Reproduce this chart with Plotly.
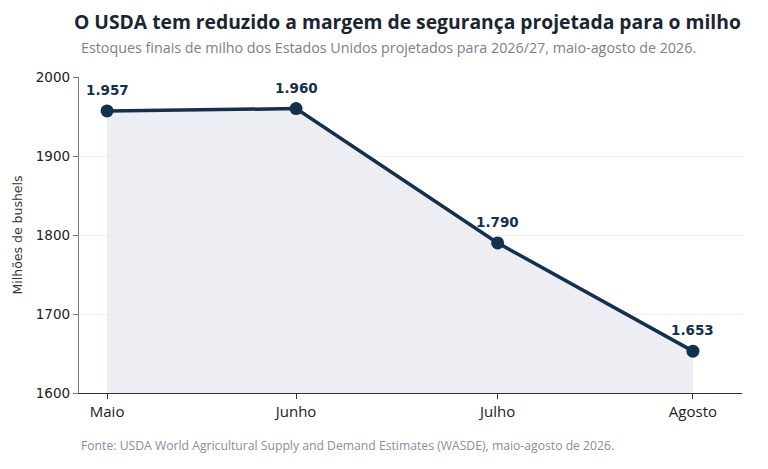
import plotly.graph_objects as go

# Data
report_dates = ["2026-05-12", "2026-06-11", "2026-07-13", "2026-08-13"]
month_labels = ["Maio", "Junho", "Julho", "Agosto"]
ending_stocks = [1957, 1960, 1790, 1653]
y_ticks = [1600, 1700, 1800, 1900, 2000]

title_text = "O USDA tem reduzido a margem de segurança projetada para o milho"
subtitle_text = "Estoques finais de milho dos Estados Unidos projetados para 2026/27, maio-agosto de 2026."
source_text = "Fonte: USDA World Agricultural Supply and Demand Estimates (WASDE), maio-agosto de 2026."

navy = "#14304f"

fig = go.Figure()
fig.add_trace(go.Scatter(
    x=report_dates, y=ending_stocks,
    mode="lines+markers",
    fill="tozeroy", fillcolor="rgba(226,229,236,0.65)",
    line=dict(color=navy, width=3.5),
    marker=dict(color=navy, size=13),
    hoverinfo="skip",
    cliponaxis=False,
))

annotations = []
for d, v in zip(report_dates, ending_stocks):
    annotations.append(dict(
        x=d, y=v, xref="x", yref="y", text="<b>" + f"{v:,}".replace(",", ".") + "</b>",
        showarrow=False, yshift=21, xanchor="center", yanchor="middle",
        font=dict(family="DejaVu Sans", size=13.5, color=navy),
    ))

annotations += [
    dict(text="<b>" + title_text + "</b>", xref="paper", yref="paper", x=0.496, y=1.0,
         xanchor="center", yanchor="top", yshift=77 - 6, showarrow=False,
         font=dict(family="Open Sans", size=19.3, color="#1a2533")),
    dict(text=subtitle_text, xref="paper", yref="paper", x=0, y=1.0,
         xanchor="left", yanchor="top", yshift=77 - 36, showarrow=False,
         font=dict(family="Open Sans", size=14.3, color="#7a7f88")),
    dict(text=source_text, xref="paper", yref="paper", x=0, y=0,
         xanchor="left", yanchor="top", yshift=-42, showarrow=False,
         font=dict(family="Open Sans", size=12.2, color="#8a8f98")),
]

fig.update_layout(
    width=768, height=469,
    margin=dict(l=79, r=26, t=77, b=76),
    paper_bgcolor="white", plot_bgcolor="white",
    showlegend=False,
    xaxis=dict(
        type="date",
        range=["2026-05-07 13:00", "2026-08-20 19:00"],
        tickvals=report_dates, ticktext=month_labels,
        ticks="outside", ticklen=5, tickcolor="#333",
        showline=True, linecolor="#333", linewidth=1.3,
        showgrid=False, zeroline=False,
        tickfont=dict(family="Open Sans", size=15, color="#222"),
    ),
    yaxis=dict(
        range=[1600, 2000],
        tickvals=y_ticks,
        ticks="outside", ticklen=5, tickcolor="#777",
        showline=True, linecolor="#777", linewidth=1.3,
        showgrid=True, gridcolor="#f0f0f2", gridwidth=1,
        zeroline=False,
        tickfont=dict(family="DejaVu Sans", size=13.5, color="#222"),
        title=dict(text="Milhões de bushels", font=dict(family="DejaVu Sans", size=12.5, color="#333"), standoff=10),
    ),
    annotations=annotations,
)

fig.write_html("out.html", config={"displayModeBar": False},
               post_script="document.body.style.margin='0';")
